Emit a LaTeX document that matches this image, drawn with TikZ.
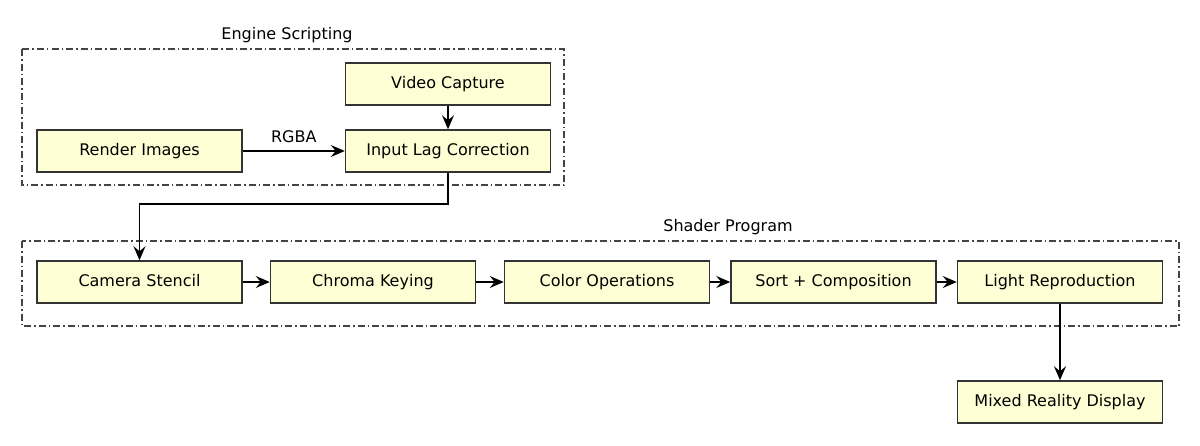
\documentclass[tikz,border=0pt]{standalone}
\usepackage{fontspec}
\setmainfont{DejaVu Sans}
\usetikzlibrary{arrows.meta}
\definecolor{boxfill}{HTML}{FFFFD5}
\definecolor{boxline}{HTML}{333333}
\definecolor{grpline}{HTML}{444444}
\begin{document}
\begin{tikzpicture}[x=1pt,y=-1pt,
 procbox/.style={draw=boxline, fill=boxfill, line width=1.5pt, minimum width=205pt, minimum height=42pt, inner sep=0pt, text height=11.5pt, text depth=3pt, font=\fontsize{16}{19}\selectfont},
 grp/.style={draw=grpline, line width=1.1pt, dash pattern=on 7pt off 3pt on 1.5pt off 3pt},
 lbl/.style={font=\fontsize{16}{19}\selectfont, inner sep=0pt},
 flow/.style={line width=1.5pt, -{Stealth[length=14pt,width=12pt,inset=5pt]}}
]
\useasboundingbox (0,0) rectangle (1200,445);
% groups
\draw[grp] (22,49) rectangle (564,185);
\node[lbl] (engtitle) at (287,35) {Engine Scripting};
\draw[grp] (22,241) rectangle (1179,326);
\node[lbl] (shadtitle) at (728,227) {Shader Program};
% boxes
\node[procbox] (render) at (139.5,151) {Render Images};
\node[procbox] (video) at (448,84) {Video Capture};
\node[procbox] (input) at (448,151) {Input Lag Correction};
\node[procbox] (camera) at (139.5,282) {Camera Stencil};
\node[procbox] (chroma) at (373,282) {Chroma Keying};
\node[procbox] (color) at (607,282) {Color Operations};
\node[procbox] (sort) at (833.5,282) {Sort + Composition};
\node[procbox] (light) at (1060,282) {Light Reproduction};
\node[procbox] (mixed) at (1060,402) {Mixed Reality Display};
% connectors
\draw[flow] (render) -- node[lbl, midway, above=8pt] (rgba) {RGBA} (input);
\draw[flow] (video) -- (input);
\draw[flow] (input.south) -- ++(0,31) -| (camera.north);
\draw[flow] (camera) -- (chroma);
\draw[flow] (chroma) -- (color);
\draw[flow] (color) -- (sort);
\draw[flow] (sort) -- (light);
\draw[flow] (light) -- (mixed);
\end{tikzpicture}
\end{document}
